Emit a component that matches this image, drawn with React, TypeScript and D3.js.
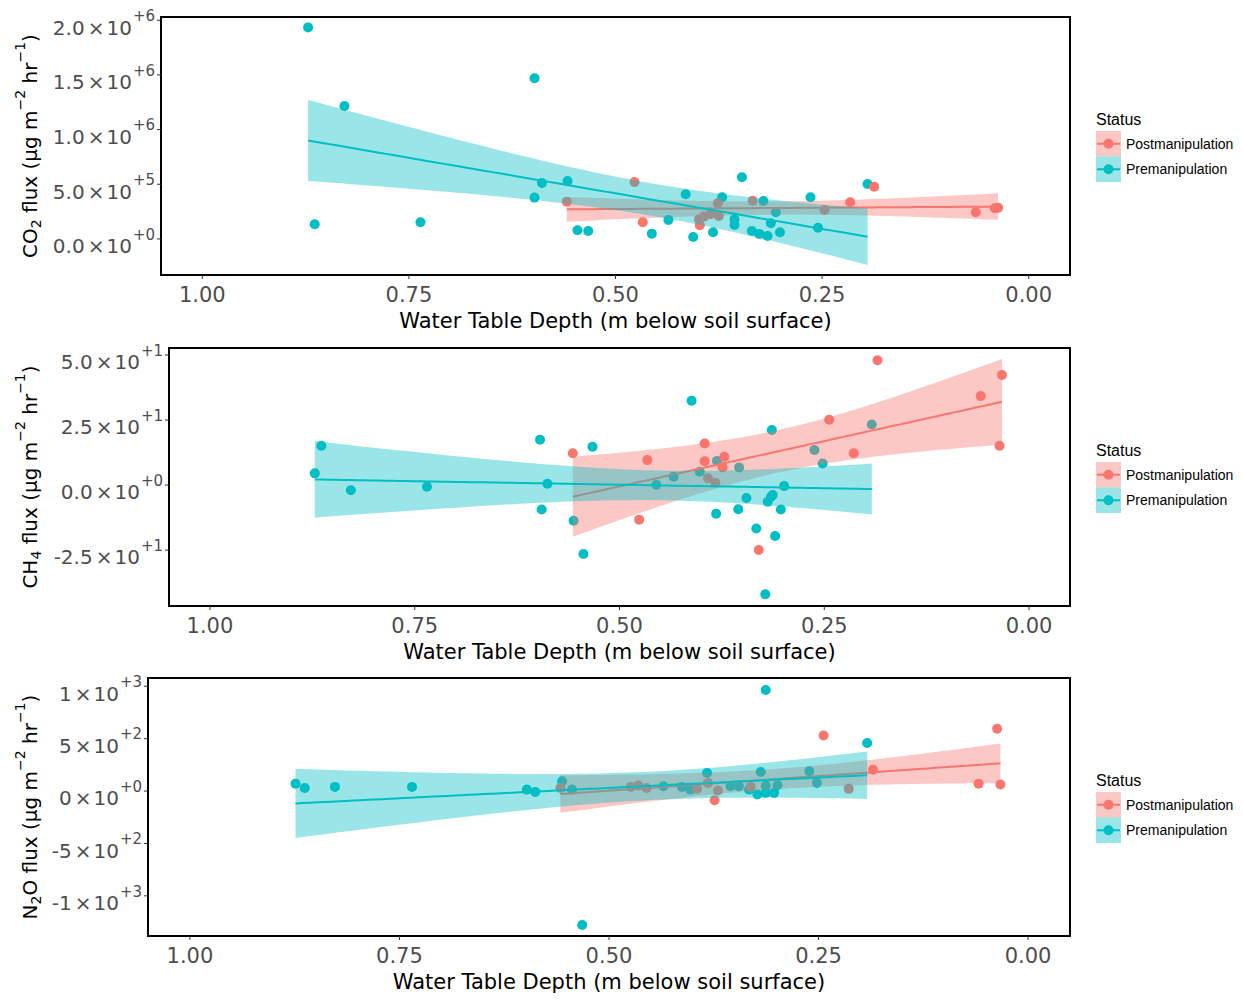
import React from 'react';
import * as d3 from 'd3';

const POST_COLOR = '#F8766D';
const PRE_COLOR = '#00BFC4';

// x axis (water table depth, m below soil surface)
const xTickValues = [1, 0.75, 0.5, 0.25, 0];
const xTickLabels = ['1.00', '0.75', '0.50', '0.25', '0.00'];
const legendLabels = ['Postmanipulation', 'Premanipulation'];

// ---- CO2 flux ----
const co2PreDepth = [0.872, 0.864, 0.828, 0.736, 0.598, 0.598, 0.589, 0.558, 0.546, 0.533, 0.456, 0.436, 0.415, 0.406, 0.382, 0.371, 0.347, 0.356, 0.356, 0.335, 0.326, 0.316, 0.321, 0.312, 0.306, 0.301, 0.264, 0.255, 0.195];
const co2PreFlux = [1935000, 134000, 1216000, 153000, 1470000, 378000, 512000, 530000, 80000, 73000, 48000, 174000, 408000, 18000, 61000, 381000, 564000, 180000, 128000, 73000, 46000, 27000, 347000, 143000, 244000, 61000, 381000, 103000, 503000];
const co2PostDepth = [0.559, 0.477, 0.467, 0.399, 0.393, 0.385, 0.376, 0.375, 0.398, 0.334, 0.247, 0.216, 0.187, 0.064, 0.041, 0.037];
const co2PostFlux = [341000, 521000, 153000, 180000, 204000, 226000, 326000, 210000, 125000, 350000, 265000, 335000, 478000, 244000, 280000, 286000];
const co2TickValues = [0, 500000, 1000000, 1500000, 2000000];
const co2TickMantissas = ['0.0', '5.0', '1.0', '1.5', '2.0'];
const co2TickExponents = ['+0', '+5', '+6', '+6', '+6'];

// ---- CH4 flux ----
const ch4PreDepth = [0.872, 0.864, 0.828, 0.735, 0.597, 0.595, 0.588, 0.556, 0.544, 0.533, 0.455, 0.434, 0.412, 0.402, 0.381, 0.382, 0.354, 0.355, 0.345, 0.333, 0.322, 0.319, 0.315, 0.313, 0.314, 0.31, 0.303, 0.299, 0.262, 0.252, 0.192];
const ch4PreFlux = [4.5, 15.1, -2.0, -0.65, 17.4, -9.4, 0.5, -13.7, -26.5, 14.7, 0.1, 3.2, 32.4, 5.1, 9.3, -11.0, 6.8, -9.3, -5.0, -16.7, -42.0, -6.4, -4.5, -3.8, 21.2, -19.6, -9.4, -0.4, 13.5, 8.3, 23.3];
const ch4PostDepth = [0.557, 0.476, 0.466, 0.396, 0.396, 0.392, 0.383, 0.374, 0.372, 0.33, 0.244, 0.214, 0.185, 0.059, 0.036, 0.033];
const ch4PostFlux = [12.2, -13.3, 9.6, 16.0, 9.2, 2.6, 0.9, 6.8, 10.9, -25.0, 25.1, 12.2, 48.0, 34.2, 15.1, 42.3];
const ch4TickValues = [-25, 0, 25, 50];
const ch4TickMantissas = ['-2.5', '0.0', '2.5', '5.0'];
const ch4TickExponents = ['+1', '+0', '+1', '+1'];

// ---- N2O flux ----
const n2oPreDepth = [0.874, 0.863, 0.827, 0.735, 0.598, 0.588, 0.556, 0.544, 0.532, 0.435, 0.413, 0.403, 0.383, 0.355, 0.345, 0.333, 0.323, 0.319, 0.313, 0.313, 0.313, 0.303, 0.299, 0.261, 0.252, 0.192];
const n2oPreFlux = [71, 30, 40, 40, 14, -8, 93, 14, -1278, 46, 40, 14, 173, 46, 46, 14, -33, 182, 965, -17, 52, -17, 55, 188, 78, 458];
const n2oPostDepth = [0.558, 0.474, 0.465, 0.455, 0.395, 0.382, 0.374, 0.37, 0.331, 0.244, 0.214, 0.185, 0.059, 0.037, 0.033];
const n2oPostFlux = [30, 40, 52, 30, 21, 78, -87, 5, 40, 530, 21, 204, 71, 594, 62];
const n2oTickValues = [-1000, -500, 0, 500, 1000];
const n2oTickMantissas = ['-1', '-5', '0', '5', '1'];
const n2oTickExponents = ['+3', '+2', '+0', '+2', '+3'];

const RIGHT = 1070;
const AXIS_FONT = 'DejaVu Sans, Verdana, sans-serif';
const LEGEND_FONT = 'Liberation Sans, Arial, sans-serif';

const panels = [
  { left: 161, top: 17, bottom: 275, yDomain: [-330000, 2030000], preX: co2PreDepth, preY: co2PreFlux, postX: co2PostDepth, postY: co2PostFlux, ticks: co2TickValues, mant: co2TickMantissas, exps: co2TickExponents, gas: 'CO', sub: '2', tail: '' },
  { left: 169, top: 348, bottom: 606, yDomain: [-46.5, 52.7], preX: ch4PreDepth, preY: ch4PreFlux, postX: ch4PostDepth, postY: ch4PostFlux, ticks: ch4TickValues, mant: ch4TickMantissas, exps: ch4TickExponents, gas: 'CH', sub: '4', tail: '' },
  { left: 148, top: 678, bottom: 936, yDomain: [-1383, 1079], preX: n2oPreDepth, preY: n2oPreFlux, postX: n2oPostDepth, postY: n2oPostFlux, ticks: n2oTickValues, mant: n2oTickMantissas, exps: n2oTickExponents, gas: 'N', sub: '2', tail: 'O' },
];

function tQuantile(df: number) {
  const z = 1.959964;
  const z3 = z ** 3, z5 = z ** 5, z7 = z ** 7;
  return z + (z3 + z) / (4 * df) + (5 * z5 + 16 * z3 + 3 * z) / (96 * df * df) + (3 * z7 + 19 * z5 + 17 * z3 - 15 * z) / (384 * df ** 3);
}

function lmFit(xs: number[], ys: number[]) {
  const n = xs.length;
  const xbar = d3.mean(xs) as number;
  const ybar = d3.mean(ys) as number;
  let sxx = 0, sxy = 0;
  xs.forEach((x, i) => { sxx += (x - xbar) ** 2; sxy += (x - xbar) * (ys[i] - ybar); });
  const b = sxy / sxx;
  const a = ybar - b * xbar;
  let sse = 0;
  xs.forEach((x, i) => { sse += (ys[i] - (a + b * x)) ** 2; });
  const s = Math.sqrt(sse / (n - 2));
  const t = tQuantile(n - 2);
  const [xmin, xmax] = d3.extent(xs) as [number, number];
  return d3.range(80).map((i) => {
    const x = xmin + ((xmax - xmin) * i) / 79;
    const fit = a + b * x;
    const se = s * Math.sqrt(1 / n + (x - xbar) ** 2 / sxx);
    return { x, fit, lo: fit - t * se, hi: fit + t * se };
  });
}

function Panel({ cfg }: { cfg: any }) {
  const x = d3.scaleLinear().domain([1.05, -0.05]).range([cfg.left, RIGHT]);
  const y = d3.scaleLinear().domain(cfg.yDomain).range([cfg.bottom, cfg.top]);
  const postFit = lmFit(cfg.postX, cfg.postY);
  const preFit = lmFit(cfg.preX, cfg.preY);
  const area = d3.area<any>().x((d) => x(d.x)).y0((d) => y(d.lo)).y1((d) => y(d.hi));
  const line = d3.line<any>().x((d) => x(d.x)).y((d) => y(d.fit));
  const cy = (cfg.top + cfg.bottom) / 2;
  const cx = (cfg.left + RIGHT) / 2;
  const lgTop = cy - 15;
  return (
    <g>
      {cfg.preX.map((d: number, i: number) => (
        <circle key={'pre' + i} cx={x(d)} cy={y(cfg.preY[i])} r={5} fill={PRE_COLOR} />
      ))}
      {cfg.postX.map((d: number, i: number) => (
        <circle key={'post' + i} cx={x(d)} cy={y(cfg.postY[i])} r={5} fill={POST_COLOR} />
      ))}
      <path d={area(postFit) || ''} fill={POST_COLOR} fillOpacity={0.4} />
      <path d={line(postFit) || ''} fill="none" stroke={POST_COLOR} strokeWidth={2} />
      <path d={area(preFit) || ''} fill={PRE_COLOR} fillOpacity={0.4} />
      <path d={line(preFit) || ''} fill="none" stroke={PRE_COLOR} strokeWidth={2} />
      <rect x={cfg.left} y={cfg.top} width={RIGHT - cfg.left} height={cfg.bottom - cfg.top} fill="none" stroke="#000" strokeWidth={2} />
      {xTickValues.map((v, i) => (
        <g key={'xt' + i}>
          <line x1={x(v)} x2={x(v)} y1={cfg.bottom} y2={cfg.bottom + 4} stroke="#333" strokeWidth={1} />
          <text x={x(v)} y={cfg.bottom + 26.5} textAnchor="middle" fontSize={21} fill="#4D4D4D" fontFamily={AXIS_FONT}>{xTickLabels[i]}</text>
        </g>
      ))}
      <text x={cx} y={cfg.bottom + 53} textAnchor="middle" fontSize={21} fill="#000" fontFamily={AXIS_FONT}>Water Table Depth (m below soil surface)</text>
      {cfg.ticks.map((v: number, i: number) => (
        <g key={'yt' + i}>
          <line x1={cfg.left - 4} x2={cfg.left} y1={y(v)} y2={y(v)} stroke="#333" strokeWidth={1} />
          <text x={cfg.left - 6} y={y(v) + 14.3} textAnchor="end" fontSize={20} fill="#4D4D4D" fontFamily={AXIS_FONT}>
            <tspan>{cfg.mant[i]}</tspan>
            <tspan dx={3}>×</tspan>
            <tspan dx={2}>10</tspan>
            <tspan fontSize={15} dx={1} dy={-13.5}>{cfg.exps[i]}</tspan>
          </text>
        </g>
      ))}
      <text transform={`translate(37,${cy}) rotate(-90)`} textAnchor="middle" fontSize={20} fill="#000" fontFamily={AXIS_FONT}>
        <tspan>{cfg.gas}</tspan>
        <tspan fontSize={14} dy={4}>{cfg.sub}</tspan>
        <tspan dy={-4}>{cfg.tail + ' flux (μg m'}</tspan>
        <tspan fontSize={14} dy={-12}>{'−2'}</tspan>
        <tspan dy={12}>{' hr'}</tspan>
        <tspan fontSize={14} dy={-12}>{'−1'}</tspan>
        <tspan dy={12}>{')'}</tspan>
      </text>
      <text x={1096} y={lgTop - 6} fontSize={16} fill="#000" fontFamily={LEGEND_FONT}>Status</text>
      {[POST_COLOR, PRE_COLOR].map((c, i) => (
        <g key={'lg' + i}>
          <rect x={1096} y={lgTop + i * 25.5} width={25} height={25.5} fill={c} fillOpacity={0.4} />
          <line x1={1097} x2={1120} y1={lgTop + i * 25.5 + 12.75} y2={lgTop + i * 25.5 + 12.75} stroke={c} strokeWidth={2} />
          <circle cx={1108.5} cy={lgTop + i * 25.5 + 12.75} r={5} fill={c} />
          <text x={1126} y={lgTop + i * 25.5 + 17.5} fontSize={14} fill="#000" fontFamily={LEGEND_FONT}>{legendLabels[i]}</text>
        </g>
      ))}
    </g>
  );
}

export default function App() {
  return (
    <svg width={1243} height={1000} style={{ position: 'absolute', left: 0, top: 0, background: '#fff' }}>
      <rect x={0} y={0} width={1243} height={1000} fill="#fff" />
      {panels.map((p, i) => (
        <Panel key={i} cfg={p} />
      ))}
    </svg>
  );
}
